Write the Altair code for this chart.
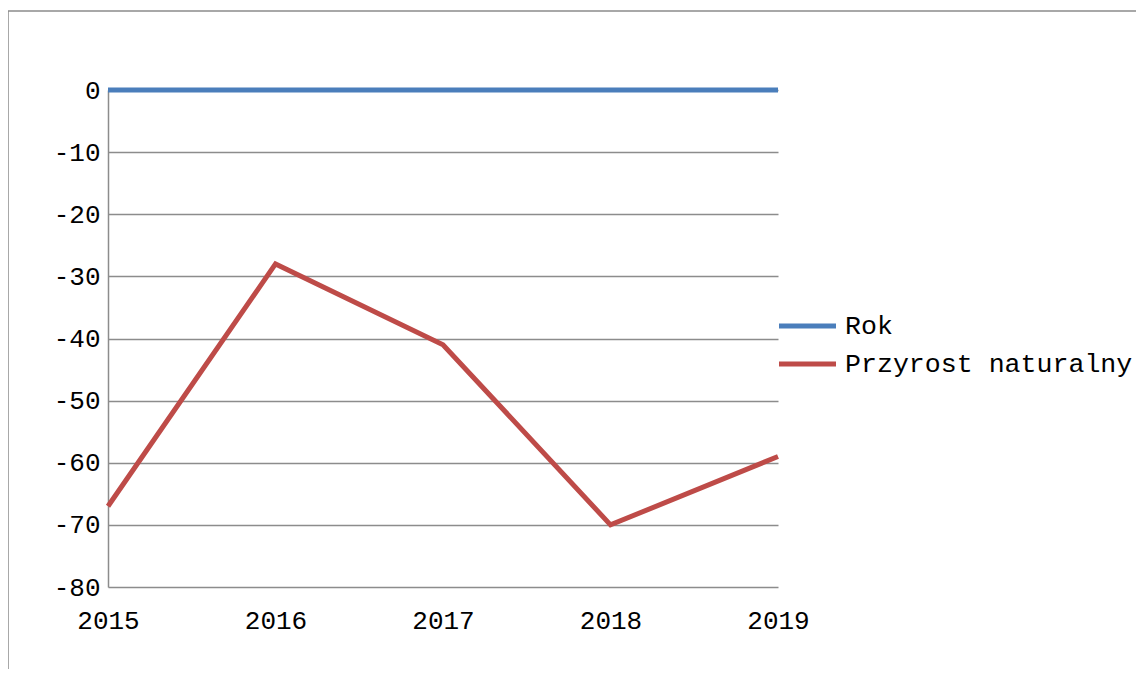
import altair as alt
import pandas as pd

years = ["2015", "2016", "2017", "2018", "2019"]
rok = [0, 0, 0, 0, 0]
przyrost = [-67, -28, -41, -70, -59]
series_names = ["Rok", "Przyrost naturalny"]
colors = ["#4a7ebb", "#be4b48"]
y_ticks = [0, -10, -20, -30, -40, -50, -60, -70, -80]

rows = []
for name, vals in zip(series_names, [rok, przyrost]):
    for yr, v in zip(years, vals):
        rows.append({"Rok_x": yr, "value": v, "series": name})
df = pd.DataFrame(rows)
leg_df = pd.DataFrame({"series": series_names})

FONT = "Liberation Mono"
W, H = 670, 497
color_scale = alt.Scale(domain=series_names, range=colors)

frame = alt.Chart(pd.DataFrame({"a": [0]})).mark_rect(
    fill=None, stroke="#8c8c8c", strokeWidth=1.5
).encode(
    x=alt.value(-100), x2=alt.value(1200), y=alt.value(-79), y2=alt.value(700)
)

lines = alt.Chart(df).mark_line(strokeWidth=5, strokeCap="butt").encode(
    x=alt.X("Rok_x:O", scale=alt.Scale(type="point", padding=0), sort=years,
            axis=alt.Axis(title=None, labelAngle=0, ticks=False, domain=False,
                          labelFont=FONT, labelFontSize=26, labelColor="#000",
                          labelPadding=33, labelBaseline="middle", grid=False)),
    y=alt.Y("value:Q", scale=alt.Scale(domain=[-80, 0], nice=False, zero=False),
            axis=alt.Axis(title=None, values=y_ticks, ticks=False,
                          labelExpr="'' + datum.value",
                          domainColor="#8c8c8c", domainWidth=1.5,
                          gridColor="#8c8c8c", gridWidth=1.5, gridOpacity=1,
                          labelFont=FONT, labelFontSize=26, labelColor="#000",
                          labelPadding=8)),
    color=alt.Color("series:N", scale=color_scale, legend=None),
    detail="series:N",
)

leg_y = alt.Y("series:N", sort=series_names,
              scale=alt.Scale(type="point", domain=series_names, range=[236, 274], padding=0),
              axis=None)

leg_rules = alt.Chart(leg_df).mark_rule(strokeWidth=5, strokeCap="butt").encode(
    x=alt.value(671), x2=alt.value(728), y=leg_y,
    color=alt.Color("series:N", scale=color_scale, legend=None),
)
leg_text = alt.Chart(leg_df).mark_text(
    align="left", baseline="middle", font=FONT, fontSize=26.6, color="#000"
).encode(
    x=alt.value(737), y=leg_y, text="series:N",
)

chart = alt.layer(frame, lines, leg_rules, leg_text).resolve_scale(
    y="independent"
).properties(
    width=W, height=H,
    padding={"left": 100, "top": 82, "right": 358, "bottom": 82},
    autosize=alt.AutoSizeParams(type="none"),
    background="white",
).configure_view(stroke=None)

chart.save("out.html", embed_options={"renderer": "svg", "actions": False})
